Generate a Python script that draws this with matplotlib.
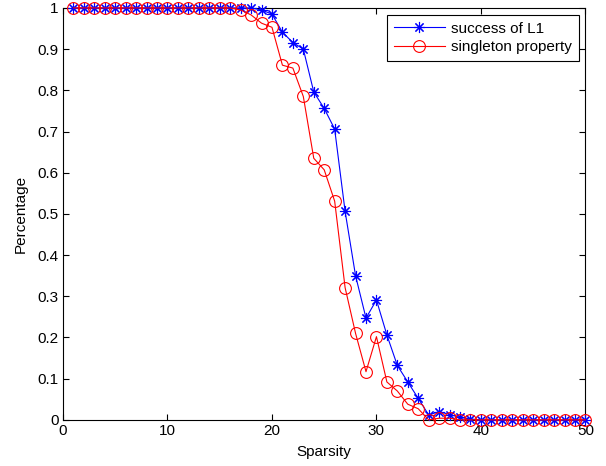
import matplotlib
matplotlib.use("Agg")
import matplotlib.pyplot as plt
from matplotlib.ticker import FuncFormatter

plt.rcParams['font.family'] = ['Liberation Sans', 'DejaVu Sans']

# data
sparsity = list(range(1, 51))
success_l1 = ([1.0] * 18
              + [0.995, 0.985, 0.941, 0.916, 0.900, 0.796, 0.756, 0.706,
                 0.506, 0.350, 0.247, 0.291, 0.206, 0.132, 0.092, 0.052,
                 0.012, 0.020, 0.013, 0.006, 0.002]
              + [0.0] * 11)
singleton = ([1.0] * 16
             + [0.995, 0.983, 0.963, 0.953, 0.861, 0.854, 0.785, 0.635,
                0.607, 0.531, 0.321, 0.210, 0.117, 0.202, 0.092, 0.070,
                0.038, 0.027, 0.0, 0.004, 0.004]
             + [0.0] * 13)

x_ticks = [0, 10, 20, 30, 40, 50]
y_ticks = [i / 10 for i in range(11)]

fig = plt.figure(figsize=(6.06, 4.66), dpi=100)
ax = fig.add_axes([0.104, 0.099, 0.862, 0.884])

# matlab style asterisk: + and x on top of each other
asterisk = (8, 2, 0)

ax.plot(sparsity, success_l1, color='blue', marker=asterisk, markersize=8,
        linewidth=0.8, markeredgewidth=0.8, label='success of L1', clip_on=False, zorder=3)
ax.plot(sparsity, singleton, color='red', marker='o', markersize=8.5,
        fillstyle='none', linewidth=0.8, markeredgewidth=0.8,
        label='singleton property', clip_on=False, zorder=3)

ax.set_xlim(0, 50)
ax.set_ylim(0, 1)
ax.set_xticks(x_ticks)
ax.set_yticks(y_ticks)
ax.yaxis.set_major_formatter(FuncFormatter(lambda v, p: f'{v:g}'))
ax.tick_params(direction='in', top=True, right=True, labelsize=11, length=4, width=0.8, pad=3)
for s in ax.spines.values():
    s.set_linewidth(0.8)

ax.set_xlabel('Sparsity', fontsize=11, labelpad=5)
ax.set_ylabel('Percentage', fontsize=11, labelpad=7)

leg = ax.legend(loc='upper right', fontsize=11, fancybox=False, edgecolor='black',
                framealpha=1, borderaxespad=0.45, handlelength=3.3,
                borderpad=0.45, labelspacing=0.3, handletextpad=0.4)
leg.get_frame().set_linewidth(0.8)

fig.savefig('out.png', dpi=100)
